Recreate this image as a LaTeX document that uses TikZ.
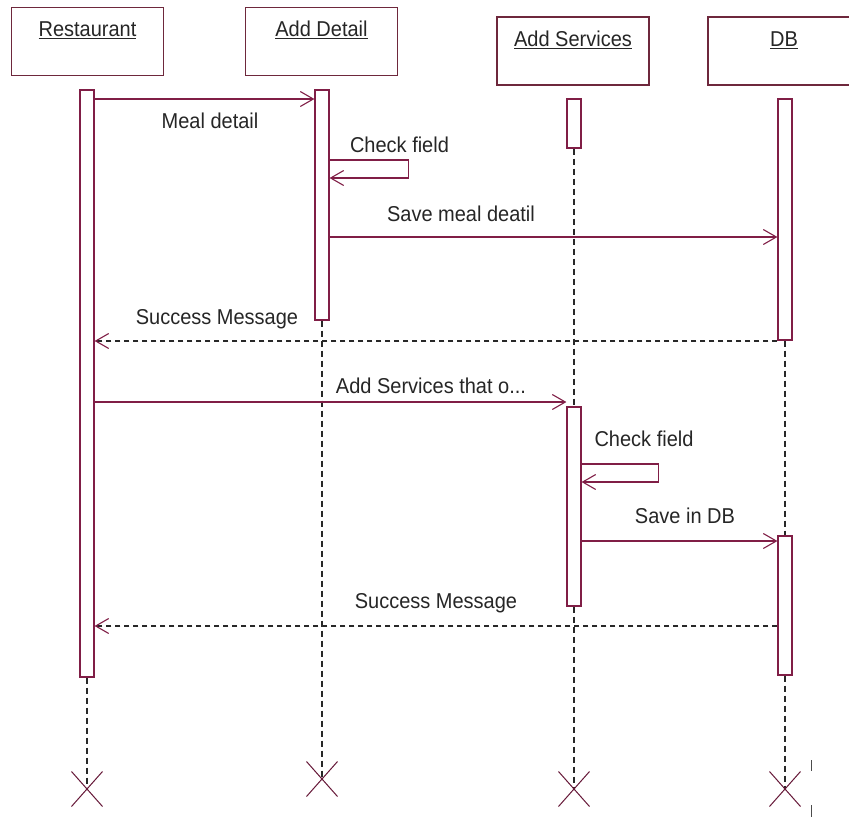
\documentclass[tikz,border=0pt]{standalone}
\usepackage{fontspec}
\setmainfont{Liberation Sans}[FakeStretch=0.93]
\usetikzlibrary{arrows.meta,shapes.misc,backgrounds}
\definecolor{umlline}{RGB}{128,30,70}
\definecolor{umlbox}{RGB}{110,40,60}
\definecolor{lifegray}{RGB}{40,40,40}
\begin{document}
\begin{tikzpicture}[x=1pt,y=-1pt,
  every node/.style={font=\fontsize{21.5}{25}\selectfont},
  objbox/.style={draw=umlbox,line width=1.3pt,fill=white,rectangle,inner sep=0pt,minimum width=152pt,minimum height=68pt},
  objtitle/.style={anchor=base,inner sep=0pt,text=black!85},
  actbar/.style={draw=umlline,line width=1.2pt,fill=white,rectangle,inner sep=0pt,minimum width=14pt},
  life/.style={draw=lifegray,line width=1.1pt,dash pattern=on 6pt off 4pt},
  msg/.style={draw=umlline,line width=1.2pt,-{Straight Barb[length=13pt,width=15pt,line width=1.1pt]}},
  ret/.style={draw=lifegray,line width=1.1pt,dash pattern=on 5pt off 4pt,-{Straight Barb[length=13pt,width=15pt,line width=1.1pt,color=umlline]}},
  lbl/.style={anchor=base,inner sep=0pt,text=black!85},
  endx/.style={cross out,draw=umlline!80!black,line width=1pt,minimum width=30pt,minimum height=34pt,inner sep=0pt}
]
\clip (0,0) rectangle (849,817);

% object boxes
\node[objbox] (rest) at (87.5,41.5) {};
\node[objbox] (add)  at (321.5,41.5) {};
\node[objbox] (serv) at (573,51) {};
\node[objbox] (db)   at (784,51) {};
\node[objtitle] (restt) at ([yshift=-30pt]rest.north) {\underline{Restaurant}};
\node[objtitle] (addt)  at ([yshift=-30pt]add.north) {\underline{Add Detail}};
\node[objtitle] (servt) at ([yshift=-30pt]serv.north) {\underline{Add Services}};
\node[objtitle] (dbt)   at ([yshift=-30pt]db.north) {\underline{DB}};

% end marks
\node[endx] (xr) at (87,789) {};
\node[endx] (xa) at (322,779) {};
\node[endx] (xs) at (574,789) {};
\node[endx] (xd) at (785,789) {};

% activation bars
\node[actbar,minimum height=587pt] (rbar)  at (87,383.5) {};
\node[actbar,minimum height=230pt] (abar)  at (322,205) {};
\node[actbar,minimum height=49pt]  (sbar1) at (574,123.5) {};
\node[actbar,minimum height=199pt] (sbar2) at (574,506.5) {};
\node[actbar,minimum height=241pt] (dbar1) at (785,219.5) {};
\node[actbar,minimum height=139pt] (dbar2) at (785,605.5) {};

% background and lifelines
\begin{scope}[on background layer]
\fill[white] (0,0) rectangle (849,817);
\draw[life] (rbar.south) -- (xr.center);
\draw[life] (abar.south) -- (xa.center);
\draw[life] (sbar1.south) -- (sbar2.north);
\draw[life] (sbar2.south) -- (xs.center);
\draw[life] (dbar1.south) -- (dbar2.north);
\draw[life] (dbar2.south) -- (xd.center);
\end{scope}

% message levels
\coordinate (y1) at (0,99);
\coordinate (c1a) at (0,160);
\coordinate (c1b) at (0,178);
\coordinate (y2) at (0,237);
\coordinate (y3) at (0,341);
\coordinate (y4) at (0,402);
\coordinate (c2a) at (0,464);
\coordinate (c2b) at (0,482);
\coordinate (y5) at (0,541);
\coordinate (y6) at (0,626);

% messages
\draw[msg] (rbar.east |- y1) -- (abar.west |- y1);
\draw[msg] (abar.east |- c1a) -- ++(79,0) |- (abar.east |- c1b);
\draw[msg] (abar.east |- y2) -- (dbar1.west |- y2);
\draw[ret] (dbar1.west |- y3) -- (rbar.east |- y3);
\draw[msg] (rbar.east |- y4) -- (sbar2.west |- y4);
\draw[msg] (sbar2.east |- c2a) -- ++(77,0) |- (sbar2.east |- c2b);
\draw[msg] (sbar2.east |- y5) -- (dbar2.west |- y5);
\draw[ret] (dbar2.west |- y6) -- (rbar.east |- y6);

% labels
\node[lbl] (l1) at (210,128) {Meal detail};
\node[lbl] (l2) at (399.5,152) {Check field};
\node[lbl] (l3) at (461,221) {Save meal deatil};
\node[lbl] (l4) at (217,324) {Success Message};
\node[lbl] (l5) at (431,393) {Add Services that o...};
\node[lbl] (l6) at (644,446) {Check field};
\node[lbl] (l7) at (685,523) {Save in DB};
\node[lbl] (l8) at (436,608) {Success Message};

% small tick marks beside DB end
\draw[black!70,line width=1pt] (811,760) -- (811,771);
\draw[black!70,line width=1pt] (811,805) -- (811,817);
\end{tikzpicture}
\end{document}
